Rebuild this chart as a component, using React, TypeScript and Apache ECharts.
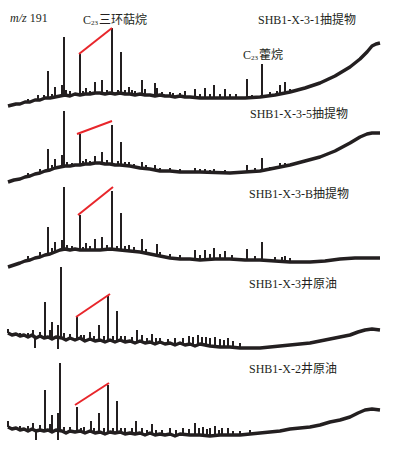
import React, { useEffect, useRef } from "react";
import * as echarts from "echarts";

// Retention axis (scan units) and response axis (offset units, inverted stack)
const traceNames = ["SHB1-X-3-1抽提物", "SHB1-X-3-5抽提物", "SHB1-X-3-B抽提物", "SHB1-X-3井原油", "SHB1-X-2井原油"];

const base1 = [[8,106],[12,105],[16,104],[20,104],[25,102],[30,102],[35,100],[40,100],[45,98],[50,98],[55,97],[60,96],[65,95],[70,96],[75,94],[80,95],[85,94],[90,94],[95,93],[100,93],[105,94],[110,93],[115,94],[120,93],[125,94],[130,94],[135,95],[140,94],[145,95],[150,95],[155,96],[160,95],[165,96],[170,96],[175,97],[180,96],[185,97],[190,97],[200,98],[210,98],[220,98],[230,98],[245,98],[260,97],[275,95],[290,92],[305,88],[320,83],[335,76],[350,67],[360,59],[367,52],[372,46],[376,44],[380,43]];
const base2 = [[8,182],[14,180],[20,179],[25,177],[30,176],[35,174],[40,173],[45,171],[50,170],[55,168],[60,167],[65,166],[70,166],[75,165],[80,165],[85,164],[90,164],[95,163],[100,163],[105,164],[110,164],[115,165],[120,165],[130,166],[140,168],[150,169],[160,171],[170,171],[180,172],[200,172],[230,173],[260,171],[275,168],[290,165],[305,161],[320,157],[335,151],[350,143],[360,137],[367,134],[372,133],[380,133]];
const base3 = [[8,267],[14,265],[20,263],[25,261],[30,260],[35,258],[40,257],[45,255],[50,254],[55,252],[60,250],[65,249],[70,250],[75,249],[80,250],[90,250],[100,250],[110,249],[120,250],[130,251],[140,252],[150,254],[160,256],[170,258],[180,259],[190,259],[200,260],[215,259],[230,259],[245,260],[260,260],[275,261],[290,262],[310,262],[325,261],[340,259],[355,258],[365,258],[380,258]];
const base4 = [[8,333],[12,335],[16,334],[20,336],[24,335],[28,337],[32,335],[36,338],[40,336],[44,338],[48,337],[52,339],[56,337],[62,338],[66,340],[70,338],[75,340],[80,338],[85,341],[90,339],[95,341],[100,340],[105,342],[110,340],[115,342],[120,340],[125,342],[130,341],[135,343],[140,341],[145,343],[150,342],[155,344],[160,342],[165,344],[170,343],[175,345],[180,343],[185,345],[190,344],[195,346],[200,344],[210,346],[220,347],[230,347],[240,348],[250,348],[260,348],[270,347],[280,346],[290,345],[300,344],[310,343],[320,341],[330,339],[340,337],[350,335],[358,332],[365,330],[372,329],[380,330]];
const base5 = [[8,427],[12,429],[16,428],[20,430],[24,429],[28,431],[32,429],[36,431],[40,430],[44,431],[48,430],[52,432],[56,430],[62,431],[66,433],[70,431],[75,432],[80,431],[85,433],[90,431],[95,433],[100,432],[105,434],[110,432],[115,433],[120,432],[125,434],[130,433],[135,434],[140,433],[145,435],[150,433],[155,435],[160,434],[165,435],[170,434],[175,436],[180,434],[190,435],[200,435],[210,436],[220,435],[230,435],[240,435],[250,434],[260,433],[270,432],[280,431],[290,429],[300,428],[310,427],[320,425],[330,422],[340,420],[350,417],[358,413],[365,410],[372,409],[380,410]];

// peaks: [retention, base, apex]
const peaks1 = [[28,102,99],[38,100,95],[44,98,95],[48,98,71],[52,98,94],[55,97,87],[62,96,85],[64,96,37],[66,95,90],[70,96,91],[80,95,54],[83,94,91],[86,94,88],[90,94,91],[95,93,82],[102,93,80],[107,94,90],[112,93,28],[118,94,90],[121,93,52],[125,94,90],[129,94,87],[132,94,90],[135,95,91],[142,94,80],[145,95,89],[155,96,83],[157,96,88],[162,95,92],[170,96,92],[173,96,93],[180,96,93],[185,97,91],[195,97,89],[200,98,94],[205,98,88],[210,98,94],[214,98,85],[220,98,94],[225,98,89],[230,98,94],[236,98,94],[247,98,79],[252,98,95],[262,97,64],[270,96,92],[277,95,91],[280,94,85],[285,93,82],[290,92,89]];
const peaks2 = [[28,176,173],[40,173,169],[48,170,149],[52,169,165],[55,168,159],[62,167,155],[64,166,111],[67,166,162],[72,166,163],[80,165,134],[83,164,161],[86,164,159],[90,164,161],[95,163,156],[102,163,152],[107,164,160],[112,164,125],[118,165,161],[121,165,142],[125,165,162],[129,166,162],[134,167,164],[142,168,162],[146,168,165],[155,170,165],[160,171,168],[170,171,168],[180,172,169],[195,172,168],[200,172,169],[205,172,169],[210,173,170],[214,173,169],[225,173,170],[247,172,165],[255,171,168],[262,171,158],[270,170,167],[280,167,163],[285,166,163]];
const peaks3 = [[28,260,256],[40,257,252],[48,254,227],[52,253,248],[55,252,242],[62,250,240],[64,249,187],[67,249,245],[72,250,246],[80,250,215],[83,250,247],[86,250,243],[90,250,246],[95,250,239],[102,250,237],[107,250,245],[112,250,191],[117,250,246],[121,250,213],[125,250,246],[129,251,245],[134,251,247],[142,252,239],[146,253,249],[157,256,244],[160,256,252],[170,258,254],[180,259,255],[195,259,250],[200,260,255],[205,260,250],[210,259,254],[214,259,248],[220,259,254],[225,259,251],[232,259,255],[247,260,249],[255,260,256],[262,260,242],[275,261,257],[282,262,257],[285,262,256],[290,262,258]];
const peaks4 = [[8,333,329],[20,336,333],[28,337,333],[33,335,330],[35,338,348],[40,336,332],[45,338,302],[50,337,330],[52,339,322],[58,338,325],[58,338,349],[61,338,267],[64,339,333],[70,338,334],[77,339,317],[81,339,335],[84,340,335],[90,339,332],[94,340,336],[99,340,325],[104,341,336],[108,340,296],[113,341,336],[117,340,311],[121,340,336],[125,342,336],[132,342,337],[137,342,330],[142,342,335],[147,343,338],[152,342,334],[156,343,338],[160,342,338],[168,343,339],[175,344,338],[183,344,338],[189,344,336],[193,345,337],[198,345,335],[202,344,337],[206,345,337],[210,345,338],[215,346,337],[220,346,339],[224,346,340],[228,347,338],[233,347,341],[240,347,343]];
const peaks5 = [[8,427,421],[20,430,426],[28,431,426],[33,429,423],[36,431,440],[40,430,425],[45,430,390],[50,430,424],[52,432,415],[58,431,413],[58,431,440],[60,431,363],[64,432,427],[70,431,427],[77,431,407],[81,432,428],[84,432,427],[91,432,421],[94,433,428],[99,432,413],[104,433,428],[108,432,385],[113,433,428],[117,432,401],[121,432,428],[125,433,428],[132,433,428],[136,433,421],[142,434,428],[147,434,430],[152,434,424],[156,434,430],[162,434,430],[170,434,428],[176,435,430],[183,435,428],[189,435,429],[195,435,423],[199,435,428],[203,435,427],[207,435,429],[210,435,428],[215,435,426],[219,435,430],[222,435,428],[228,435,428],[233,435,431],[240,435,431],[250,434,430]];

// red C23 tricyclic -> C24 markers: [[x1,y1],[x2,y2]]
const ratioLines = [
  [[79,54],[112,28]],
  [[77,134],[112,121]],
  [[78,215],[113,187]],
  [[76,317],[110,294]],
  [[75,405],[109,383]],
];

const labelX = [258, 250, 249, 249, 249];
const labelY = [20, 114, 194, 284, 369];

const bases = [base1, base2, base3, base4, base5];
const peaks = [peaks1, peaks2, peaks3, peaks4, peaks5];

const INK = "#231f20";
const FONT = "'Liberation Serif', 'Noto Sans CJK SC', serif";

export default function App() {
  const ref = useRef<HTMLDivElement>(null);
  useEffect(() => {
    if (!ref.current) return;
    const chart = echarts.init(ref.current, undefined, { renderer: "svg" });
    const series: any[] = [];
    bases.forEach((b, i) => {
      series.push({
        type: "line",
        data: b,
        symbol: "none",
        lineStyle: { color: INK, width: 3.5, join: "round" },
        z: 2,
      });
      series.push({
        type: "custom",
        data: peaks[i],
        encode: { x: 0, y: [1, 2] },
        renderItem: (params: any, api: any) => {
          const p1 = api.coord([api.value(0), api.value(1)]);
          const p2 = api.coord([api.value(0), api.value(2)]);
          return {
            type: "line",
            shape: { x1: p1[0], y1: p1[1], x2: p2[0], y2: p2[1] },
            style: { stroke: INK, lineWidth: 2 },
          };
        },
        z: 3,
      });
      series.push({
        type: "line",
        data: ratioLines[i],
        symbol: "none",
        lineStyle: { color: "#e8262b", width: 2 },
        z: 4,
      });
    });

    const graphic: any[] = traceNames.map((t, i) => ({
      type: "text",
      x: labelX[i],
      y: labelY[i],
      style: { text: t, fill: INK, font: `12px ${FONT}`, verticalAlign: "middle" },
    }));
    graphic.push({
      type: "text",
      x: 10,
      y: 18,
      style: {
        text: "{i|m/z} 191",
        fill: INK,
        font: `12px ${FONT}`,
        verticalAlign: "middle",
        rich: { i: { fontStyle: "italic", font: `italic 12px ${FONT}`, fill: INK } },
      },
    });
    graphic.push({
      type: "text",
      x: 83,
      y: 20,
      style: {
        text: "{c|C}{s|23}{c|三环萜烷}",
        fill: INK,
        verticalAlign: "middle",
        rich: {
          c: { font: `12px ${FONT}`, fill: INK },
          s: { font: `7px ${FONT}`, fill: INK, padding: [6, 1, 0, 0] },
        },
      },
    });
    graphic.push({
      type: "text",
      x: 243,
      y: 55,
      style: {
        text: "{c|C}{s|23}{c|藿烷}",
        fill: INK,
        verticalAlign: "middle",
        rich: {
          c: { font: `12px ${FONT}`, fill: INK },
          s: { font: `7px ${FONT}`, fill: INK, padding: [6, 1, 0, 0] },
        },
      },
    });

    chart.setOption({
      animation: false,
      grid: { left: 0, right: 0, top: 0, bottom: 0 },
      xAxis: { type: "value", min: 0, max: 394, show: false },
      yAxis: { type: "value", min: 0, max: 455, inverse: true, show: false },
      series,
      graphic,
    });
    return () => chart.dispose();
  }, []);
  return (
    <div
      ref={ref}
      style={{ position: "absolute", left: 0, top: 0, width: 394, height: 455, background: "#fff" }}
    />
  );
}
